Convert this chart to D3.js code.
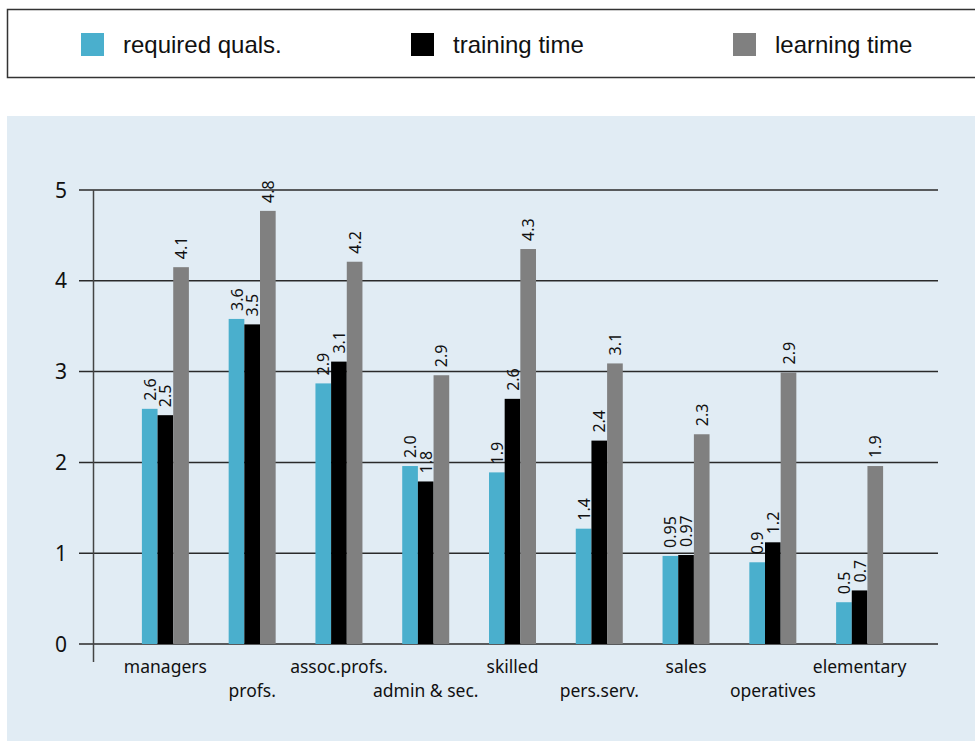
<!DOCTYPE html>
<html>
<head>
<meta charset="utf-8">
<script src="https://cdn.jsdelivr.net/npm/d3@7"></script>
<style>
  html, body { margin: 0; padding: 0; background: #ffffff; }
  svg { display: block; }
</style>
</head>
<body>
<svg id="chart" width="975" height="741"></svg>
<script>
// ---- data ----
const categories = ["managers", "profs.", "assoc.profs.", "admin & sec.", "skilled", "pers.serv.", "sales", "operatives", "elementary"];
const seriesNames = ["required quals.", "training time", "learning time"];
const requiredQuals = [2.59, 3.58, 2.87, 1.96, 1.89, 1.27, 0.97, 0.90, 0.46];
const trainingTime  = [2.52, 3.52, 3.11, 1.79, 2.70, 2.24, 0.98, 1.12, 0.59];
const learningTime  = [4.15, 4.77, 4.21, 2.96, 4.35, 3.09, 2.31, 2.99, 1.96];
const requiredLabels = ["2.6", "3.6", "2.9", "2.0", "1.9", "1.4", "0.95", "0.9", "0.5"];
const trainingLabels = ["2.5", "3.5", "3.1", "1.8", "2.6", "2.4", "0.97", "1.2", "0.7"];
const learningLabels = ["4.1", "4.8", "4.2", "2.9", "4.3", "3.1", "2.3", "2.9", "1.9"];
const yTicks = [0, 1, 2, 3, 4, 5];

const seriesValues = [requiredQuals, trainingTime, learningTime];
const seriesLabels = [requiredLabels, trainingLabels, learningLabels];
const colors = ["#4aafcd", "#000000", "#808080"];

const svg = d3.select("#chart");
const font = "'Noto Sans', 'Open Sans', sans-serif";

// ---- legend ----
svg.append("rect")
  .attr("x", 7.5).attr("y", 9.5).attr("width", 980).attr("height", 68)
  .attr("fill", "#ffffff").attr("stroke", "#333333").attr("stroke-width", 1.5);

const legendSwatchX = [81, 411, 733];
const legend = svg.append("g");
seriesNames.forEach((name, i) => {
  legend.append("rect")
    .attr("x", legendSwatchX[i]).attr("y", 33).attr("width", 23).attr("height", 23)
    .attr("fill", colors[i]);
  legend.append("text")
    .attr("x", legendSwatchX[i] + 42).attr("y", 53)
    .attr("font-family", "'Liberation Sans', Arial, sans-serif")
    .attr("font-size", 24)
    .attr("fill", "#111")
    .text(name);
});

// ---- panel ----
svg.append("rect")
  .attr("x", 7).attr("y", 116).attr("width", 968).attr("height", 625)
  .attr("fill", "#e1ecf4");

// ---- scales ----
const y = d3.scaleLinear().domain([0, 5]).range([644, 190]);
const x0 = d3.scaleBand().domain(categories).range([122, 903]).padding(0);
const groupW = 47;
const x1 = d3.scaleBand().domain(seriesNames)
  .range([(x0.bandwidth() - groupW) / 2, (x0.bandwidth() + groupW) / 2]).padding(0);

// gridlines
const grid = svg.append("g");
grid.selectAll("line").data(yTicks).join("line")
  .attr("x1", 79).attr("x2", 938)
  .attr("y1", d => y(d)).attr("y2", d => y(d))
  .attr("stroke", "#2a2a2a").attr("stroke-width", 1.5);

// y axis line
svg.append("line")
  .attr("x1", 93.5).attr("x2", 93.5).attr("y1", y(5)).attr("y2", 662)
  .attr("stroke", "#444").attr("stroke-width", 1.5);

// y tick labels
svg.append("g").selectAll("text").data(yTicks).join("text")
  .attr("x", 67).attr("y", d => y(d))
  .attr("dy", "0.36em")
  .attr("text-anchor", "end")
  .attr("font-family", font).attr("font-size", 21)
  .attr("fill", "#111")
  .text(d => d);

// bars
const groups = svg.append("g").selectAll("g").data(categories).join("g")
  .attr("transform", c => `translate(${x0(c)},0)`);

groups.each(function(c, ci) {
  const g = d3.select(this);
  seriesNames.forEach((s, si) => {
    const v = seriesValues[si][ci];
    g.append("rect")
      .attr("x", x1(s)).attr("width", x1.bandwidth())
      .attr("y", y(v)).attr("height", y(0) - y(v))
      .attr("fill", colors[si]);
    const cx = x1(s) + x1.bandwidth() / 2;
    g.append("text")
      .attr("transform", `translate(${cx + 6},${y(v) - 8}) rotate(-90)`)
      .attr("text-anchor", "start")
      .attr("font-family", font).attr("font-size", 16)
      .attr("fill", "#111")
      .text(seriesLabels[si][ci]);
  });
});

// category labels (staggered)
svg.append("g").selectAll("text").data(categories).join("text")
  .attr("x", c => x0(c) + x0.bandwidth() / 2)
  .attr("y", (c, i) => i % 2 === 0 ? 673 : 697)
  .attr("text-anchor", "middle")
  .attr("font-family", font).attr("font-size", 17.5)
  .attr("fill", "#111")
  .text(c => c);
</script>
</body>
</html>
